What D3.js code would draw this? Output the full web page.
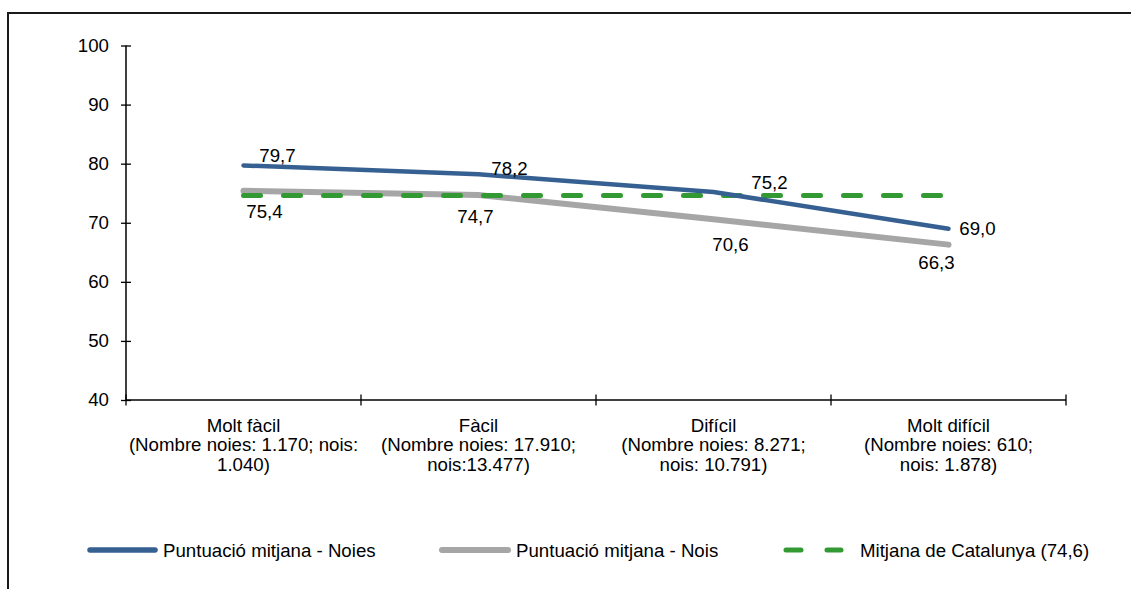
<!DOCTYPE html>
<html>
<head>
<meta charset="utf-8">
<script src="https://cdn.jsdelivr.net/npm/d3@7"></script>
<style>
  html, body { margin: 0; padding: 0; background: #fff; }
  svg { display: block; }
  text { font-family: "Liberation Sans", Arial, sans-serif; fill: #000; }
</style>
</head>
<body>
<svg id="chart" width="1131" height="589"></svg>
<script>
// ---- data ----
const categories = ["Molt fàcil", "Fàcil", "Difícil", "Molt difícil"];
const categoryLines = [
  ["Molt fàcil", "(Nombre noies: 1.170; nois:", "1.040)"],
  ["Fàcil", "(Nombre noies: 17.910;", "nois:13.477)"],
  ["Difícil", "(Nombre noies: 8.271;", "nois: 10.791)"],
  ["Molt difícil", "(Nombre noies: 610;", "nois: 1.878)"]
];
const noies = [79.7, 78.2, 75.2, 69.0];
const nois = [75.4, 74.7, 70.6, 66.3];
const catalunyaMean = 74.6;
const yTicks = [40, 50, 60, 70, 80, 90, 100];
const seriesNames = ["Puntuació mitjana - Noies", "Puntuació mitjana - Nois", "Mitjana de Catalunya (74,6)"];

// label offsets (layout only)
const noiesLabelOffsets = [[34, -10], [31, -6], [56, -10], [29, 0]];
const noisLabelOffsets = [[21, 21], [-3, 21], [17, 25], [-12, 18]];

// ---- styles ----
const colBlue = "#376092", colGray = "#A6A6A6", colGreen = "#339933";
const fs = "18.67px";

const svg = d3.select("#chart");
const fmt = v => d3.format(".1f")(v).replace(".", ",");

// border
svg.append("rect").attr("x", 8).attr("y", 13).attr("width", 1300).attr("height", 700)
  .attr("fill", "none").attr("stroke", "#1a1a1a").attr("stroke-width", 2);

const x = d3.scaleBand().domain(categories).range([126, 1066]).padding(0);
const y = d3.scaleLinear().domain([40, 100]).range([400, 45.5]);
const cx = c => x(c) + x.bandwidth() / 2;

// y axis
const yAxis = svg.append("g").attr("transform", "translate(126,0)")
  .call(d3.axisLeft(y).tickValues(yTicks).tickSize(5).tickPadding(12).tickFormat(d3.format("d")));
yAxis.select(".domain").remove();
yAxis.selectAll(".tick line").attr("x1", -5).attr("x2", 5).attr("stroke", "#000").attr("stroke-width", 1.3);
yAxis.selectAll(".tick text").attr("font-size", fs).attr("font-family", "Liberation Sans, Arial, sans-serif").attr("fill", "#000");
svg.append("line").attr("x1", 126).attr("x2", 126).attr("y1", y(100)).attr("y2", y(40))
  .attr("stroke", "#000").attr("stroke-width", 1.5);

// x axis
svg.append("line").attr("x1", x.range()[0]).attr("x2", x.range()[1]).attr("y1", y(40)).attr("y2", y(40))
  .attr("stroke", "#000").attr("stroke-width", 1.5);
const bounds = categories.map(c => x(c)).concat([x.range()[1]]);
svg.selectAll(".xtick").data(bounds).enter().append("line")
  .attr("x1", d => d).attr("x2", d => d).attr("y1", y(40) - 5.5).attr("y2", y(40) + 5.5)
  .attr("stroke", "#000").attr("stroke-width", 1.3);

// category labels
categories.forEach((c, i) => {
  const t = svg.append("text").attr("text-anchor", "middle").attr("font-size", fs)
    .attr("x", cx(c)).attr("y", 432);
  categoryLines[i].forEach((ln, j) => {
    t.append("tspan").attr("x", cx(c)).attr("dy", j === 0 ? 0 : 19.4).text(ln);
  });
});

// lines
const line = d3.line().x((d, i) => cx(categories[i])).y(d => y(d));
svg.append("path").datum(nois).attr("d", line).attr("fill", "none")
  .attr("stroke", colGray).attr("stroke-width", 6).attr("stroke-linecap", "round").attr("stroke-linejoin", "round");
svg.append("path").datum(categories.map(() => catalunyaMean)).attr("d", line).attr("fill", "none")
  .attr("stroke", colGreen).attr("stroke-width", 5).attr("stroke-dasharray", "17,23").attr("stroke-linecap", "round");
svg.append("path").datum(noies).attr("d", line).attr("fill", "none")
  .attr("stroke", colBlue).attr("stroke-width", 4.5).attr("stroke-linecap", "round").attr("stroke-linejoin", "round");

// data labels
function labels(vals, offs) {
  svg.append("g").selectAll("text").data(vals).enter().append("text")
    .attr("text-anchor", "middle").attr("font-size", fs)
    .attr("x", (d, i) => cx(categories[i]) + offs[i][0])
    .attr("y", (d, i) => y(d) + offs[i][1])
    .attr("dy", "0.35em")
    .text(d => fmt(d));
}
labels(noies, noiesLabelOffsets);
labels(nois, noisLabelOffsets);

// legend
const legY = 550;
const legend = [
  { name: seriesNames[0], color: colBlue, w: 5.5, x1: 90, x2: 155, dash: null, tx: 163 },
  { name: seriesNames[1], color: colGray, w: 6, x1: 442, x2: 508, dash: null, tx: 516 },
  { name: seriesNames[2], color: colGreen, w: 5, x1: 786, x2: 841, dash: "15,26", tx: 860 }
];
legend.forEach(l => {
  const ln = svg.append("line").attr("x1", l.x1).attr("x2", l.x2).attr("y1", legY).attr("y2", legY)
    .attr("stroke", l.color).attr("stroke-width", l.w).attr("stroke-linecap", "round");
  if (l.dash) ln.attr("stroke-dasharray", l.dash);
  svg.append("text").attr("x", l.tx).attr("y", legY).attr("dy", "0.35em").attr("font-size", fs).text(l.name);
});
</script>
</body>
</html>
